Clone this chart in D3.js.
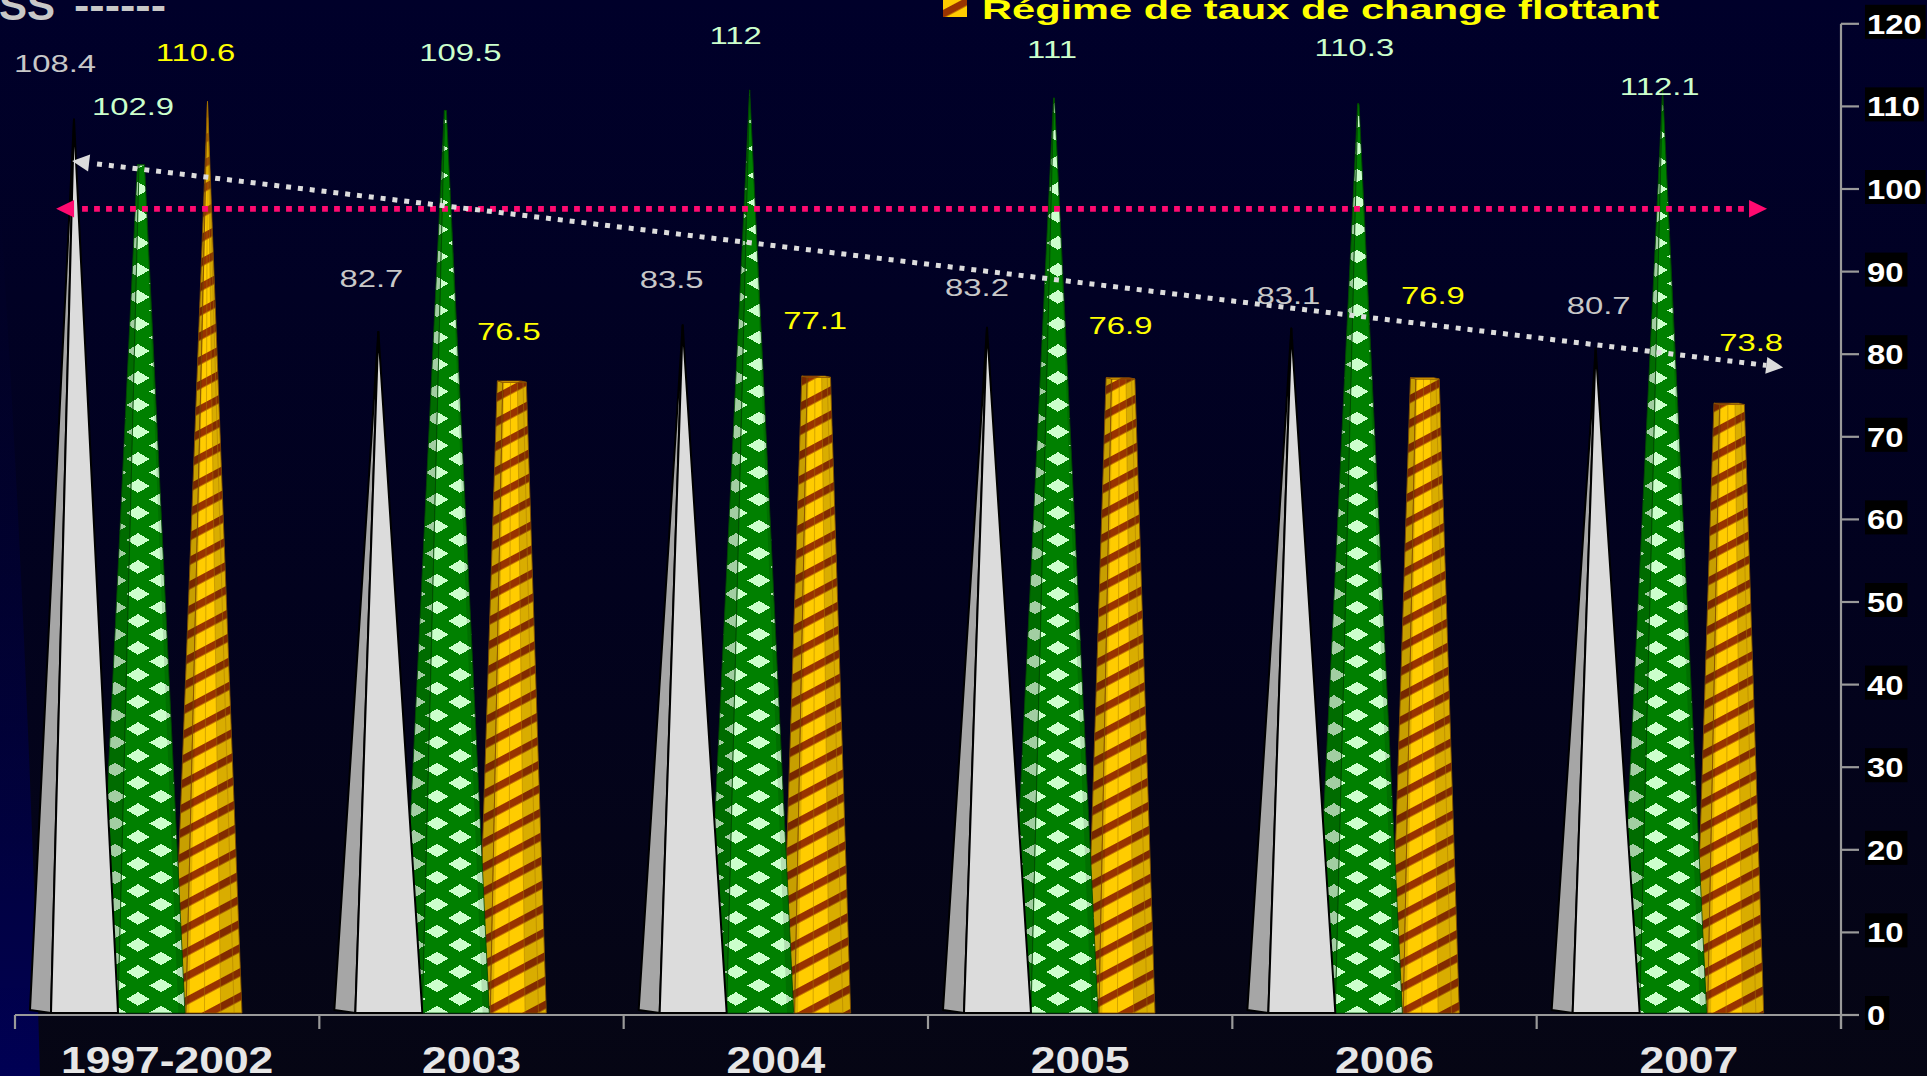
<!DOCTYPE html>
<html>
<head>
<meta charset="utf-8">
<script src="https://cdn.jsdelivr.net/npm/d3@7"></script>
<style>
  html, body { margin: 0; padding: 0; background: #00002a; overflow: hidden; }
  svg { display: block; }
  text { font-family: "Liberation Sans", Arial, sans-serif; }
</style>
</head>
<body>
<svg id="chart" width="1927" height="1076"></svg>
<script>
// ---------------- DATA ----------------
const categories = ["1997-2002", "2003", "2004", "2005", "2006", "2007"];
const seriesGray   = [108.4, 82.7, 83.5, 83.2, 83.1, 80.7];
const seriesGreen  = [102.9, 109.5, 112, 111, 110.3, 112.1];
const seriesYellow = [110.6, 76.5, 77.1, 76.9, 76.9, 73.8];
const yTicks = [0, 10, 20, 30, 40, 50, 60, 70, 80, 90, 100, 110, 120];
const legendLabel = "Régime de taux de change flottant";
const titleFragment = "SS";
const titleDashes = "------";
const referenceLevel = 97.6;          // horizontal pink arrow
const trendLevels = [103.4, 78.4];    // white dotted trend arrow (start, end)

// ---------------- LAYOUT ----------------
const W = 1927, H = 1076;
const plotLeft = 15, plotRight = 1841, plotBottom = 1015, plotTop = 23.8;
const refSpan = [0.135, 5.757];       // in category units
const trendSpan = [0.188, 5.81];
const yellowApexLevel = 132;          // virtual apex of truncated yellow columns
const grayShift   = [[-19,-48],[-7,-45],[-11,-37],[-10,-32],[-3,-25],[3,-34]];
const greenShift  = [[-8,-50],[15,-50],[-14,-46],[-2,-40],[-4,-48],[-3,6]];
const yellowShift = [[-12,-40],[-3,-43],[-1,-49],[0,-46],[8,-76],[22,-54]];

const svg = d3.select("#chart");
const defs = svg.append("defs");

const x = d3.scaleBand().domain(categories).range([plotLeft, plotRight]).padding(0);
const xc = d3.scaleLinear().domain([0, categories.length]).range([plotLeft, plotRight]);
const y = d3.scaleLinear().domain([0, 120]).range([plotBottom, plotTop]);
const bw = x.bandwidth();

// ---------------- BACKGROUND ----------------
const bg = defs.append("linearGradient").attr("id", "bgGrad")
  .attr("x1", 0).attr("y1", 0).attr("x2", 0).attr("y2", 1);
bg.append("stop").attr("offset", "0%").attr("stop-color", "#00002a");
bg.append("stop").attr("offset", "55%").attr("stop-color", "#02021e");
bg.append("stop").attr("offset", "100%").attr("stop-color", "#060614");
svg.append("rect").attr("width", W).attr("height", H).attr("fill", "url(#bgGrad)");

const glow = defs.append("linearGradient").attr("id", "glowGrad")
  .attr("gradientUnits", "userSpaceOnUse")
  .attr("x1", 0).attr("y1", 200).attr("x2", 0).attr("y2", 1076);
glow.append("stop").attr("offset", "0%").attr("stop-color", "#00003a").attr("stop-opacity", 0);
glow.append("stop").attr("offset", "100%").attr("stop-color", "#000054").attr("stop-opacity", 1);
svg.append("path").attr("d", "M0,200 Q28,640 40,1076 L0,1076 Z").attr("fill", "url(#glowGrad)");

// ---------------- PATTERNS ----------------
function diamondPattern(id, bgc, fg) {
  const pw = 46, ph = 27, hw = 11.5, hh = 6.8;
  const p = defs.append("pattern").attr("id", id).attr("patternUnits", "userSpaceOnUse")
    .attr("width", pw).attr("height", ph);
  p.append("rect").attr("width", pw).attr("height", ph).attr("fill", bgc);
  const dia = (cx, cy) => `M${cx-hw},${cy}L${cx},${cy-hh}L${cx+hw},${cy}L${cx},${cy+hh}Z`;
  p.append("path").attr("d", [dia(pw/2, ph/2), dia(0,0), dia(pw,0), dia(0,ph), dia(pw,ph)].join(""))
    .attr("fill", fg).attr("shape-rendering", "crispEdges");
}
diamondPattern("greenFront", "#008000", "#ccffcc");
diamondPattern("greenSide", "#006c00", "#a2cea2");

function stripePattern(id, bgc, fg) {
  const p = defs.append("pattern").attr("id", id).attr("patternUnits", "userSpaceOnUse")
    .attr("width", 30).attr("height", 21.5).attr("patternTransform", "rotate(-28)");
  p.append("rect").attr("width", 30).attr("height", 21.5).attr("fill", bgc);
  p.append("rect").attr("width", 30).attr("height", 7.4).attr("fill", fg);
}
stripePattern("yellowStripe", "#ffcc00", "#993300");

// ---------------- AXES ----------------
const axisColor = "#9a9a9a";
const gAxis = svg.append("g");
gAxis.append("line").attr("x1", plotLeft).attr("x2", plotRight)
  .attr("y1", y(0)).attr("y2", y(0)).attr("stroke", axisColor).attr("stroke-width", 2.2);
const boundaries = categories.map(c => x(c)).concat([plotRight]);
gAxis.selectAll("line.ct").data(boundaries).join("line").attr("class", "ct")
  .attr("x1", d => d).attr("x2", d => d).attr("y1", y(0)).attr("y2", y(0) + 14)
  .attr("stroke", axisColor).attr("stroke-width", 2.2);
gAxis.append("line").attr("x1", plotRight).attr("x2", plotRight)
  .attr("y1", y(120)).attr("y2", y(0) + 14).attr("stroke", axisColor).attr("stroke-width", 2.2);
gAxis.selectAll("line.yt").data(yTicks).join("line").attr("class", "yt")
  .attr("x1", plotRight).attr("x2", plotRight + 18)
  .attr("y1", d => y(d)).attr("y2", d => y(d)).attr("stroke", axisColor).attr("stroke-width", 2.2);

const tickG = svg.append("g");
yTicks.forEach(t => {
  const g = tickG.append("g");
  const rect = g.append("rect").attr("fill", "#000");
  const tx = g.append("text").text(t)
    .attr("transform", `translate(${plotRight + 26},${y(t) + 10}) scale(1.17,1)`)
    .attr("font-size", 28).attr("font-weight", "bold").attr("fill", "#ffffff");
  const w = tx.node().getComputedTextLength() * 1.17;
  rect.attr("x", plotRight + 24).attr("y", y(t) - 19).attr("width", w + 6).attr("height", 34);
});

// Category labels
svg.append("g").selectAll("text").data(categories).join("text")
  .attr("transform", d => `translate(${x(d) + bw / 2},1073) scale(1.2,1)`)
  .attr("text-anchor", "middle").attr("font-size", 37).attr("font-weight", "bold")
  .attr("fill", "#e6e6e6").text(d => d);

// ---------------- PYRAMIDS ----------------
function faces(s, g, v, apexV) {
  const yF = y(0) - 2, yB = y(0) - 5;
  const xBL = s + g.back, xFL = s + g.fl, xFR = s + g.fr;
  const depth = xFL - xBL;
  const ax = (xBL + xFR) / 2, ay = y(apexV);
  const f = v / apexV;
  const up = p => [p[0] + (ax - p[0]) * f, p[1] + (ay - p[1]) * f];
  const BL0 = [xBL, yB], FL0 = [xFL, yF], FR0 = [xFR, yF], BR0 = [xFR - depth, yB];
  const BL1 = up(BL0), FL1 = up(FL0), FR1 = up(FR0), BR1 = up(BR0);
  return { left: [BL0, FL0, FL1, BL1], front: [FL0, FR0, FR1, FL1],
           top: [BL1, FL1, FR1, BR1], apexX: ax, truncated: f < 0.999 };
}
const poly = pts => "M" + pts.map(p => p[0].toFixed(2) + "," + p[1].toFixed(2)).join("L") + "Z";
const mix = (a, b, t) => [a[0] + (b[0] - a[0]) * t, a[1] + (b[1] - a[1]) * t];

const greenMax = d3.max(seriesGreen);
const series = [
  { name: "yellow", values: seriesYellow, geom: { back: 158, fl: 171, fr: 227 },
    apex: v => (v >= 100 ? v : yellowApexLevel),
    front: "url(#yellowStripe)", side: "url(#yellowStripe)", stroke: "#8a5200", sw: 0.8,
    labelColor: "#ffff00", shift: yellowShift },
  { name: "green", values: seriesGreen, geom: { back: 82, fl: 103, fr: 170 },
    apex: v => Math.max(v, greenMax),
    front: "url(#greenFront)", side: "url(#greenSide)", stroke: "#004a00", sw: 0.8,
    labelColor: "#ccffcc", shift: greenShift },
  { name: "gray", values: seriesGray, geom: { back: 15, fl: 36, fr: 103 },
    apex: v => v,
    front: "#dcdcdc", side: "#a6a6a6", stroke: "#000000", sw: 2,
    labelColor: "#c8c8c8", shift: grayShift }
];

const barsG = svg.append("g");
const labelData = [];
series.forEach(sr => {
  const g = barsG.append("g").attr("class", "series-" + sr.name);
  sr.values.forEach((v, i) => {
    const s = x(categories[i]);
    const fc = faces(s, sr.geom, v, sr.apex(v));
    g.append("path").attr("d", poly(fc.left)).attr("fill", sr.side)
      .attr("stroke", sr.stroke).attr("stroke-width", sr.sw).attr("stroke-linejoin", "round");
    if (sr.name === "yellow") {
      g.append("path").attr("d", poly(fc.left)).attr("fill", "#000").attr("opacity", 0.22);
    }
    g.append("path").attr("d", poly(fc.front)).attr("fill", sr.front)
      .attr("stroke", sr.stroke).attr("stroke-width", sr.sw).attr("stroke-linejoin", "round");
    if (sr.name === "yellow") {
      const [FL0, FR0, FR1, FL1] = fc.front;
      const a0 = mix(FL0, FR0, 0.62), a1 = mix(FL1, FR1, 0.62);
      g.append("path").attr("d", poly([a0, FR0, FR1, a1])).attr("fill", "#000").attr("opacity", 0.15);
      const b0 = mix(FL0, FR0, 0.06), b1 = mix(FL1, FR1, 0.06);
      g.append("path").attr("d", poly([FL0, b0, b1, FL1])).attr("fill", "#000").attr("opacity", 0.12);
      [0.33, 0.62, 0.86].forEach(t => {
        const p0 = mix(FL0, FR0, t), p1 = mix(FL1, FR1, t);
        g.append("line").attr("x1", p0[0]).attr("y1", p0[1]).attr("x2", p1[0]).attr("y2", p1[1])
          .attr("stroke", "#a87a00").attr("stroke-width", 0.8).attr("opacity", 0.6);
      });
    }
    if (sr.name === "green") {
      const [FL0, FR0, FR1, FL1] = fc.front;
      const a0 = mix(FL0, FR0, 0.9), a1 = mix(FL1, FR1, 0.9);
      g.append("path").attr("d", poly([a0, FR0, FR1, a1])).attr("fill", "#000").attr("opacity", 0.12);
    }
    if (fc.truncated) {
      g.append("path").attr("d", poly(fc.top)).attr("fill", sr.front)
        .attr("stroke", sr.stroke).attr("stroke-width", sr.sw);
    }
    labelData.push({ v, x: fc.apexX + sr.shift[i][0], y: y(v) + sr.shift[i][1], color: sr.labelColor });
  });
});

// ---------------- ANNOTATION ARROWS ----------------
function dottedArrow(x1, y1, x2, y2, color, sw, dash, headLen, headHalf) {
  const g = svg.append("g");
  const dx = x2 - x1, dy = y2 - y1, L = Math.hypot(dx, dy);
  const ux = dx / L, uy = dy / L, nx = -uy, ny = ux;
  const sx = x1 + ux * headLen, sy = y1 + uy * headLen;
  const ex = x2 - ux * headLen, ey = y2 - uy * headLen;
  g.append("line").attr("x1", sx + ux * 8).attr("y1", sy + uy * 8).attr("x2", ex).attr("y2", ey)
    .attr("stroke", color).attr("stroke-width", sw).attr("stroke-dasharray", dash);
  g.append("path").attr("d", poly([[x1, y1], [sx + nx * headHalf, sy + ny * headHalf], [sx - nx * headHalf, sy - ny * headHalf]]))
    .attr("fill", color);
  g.append("path").attr("d", poly([[x2, y2], [ex + nx * headHalf, ey + ny * headHalf], [ex - nx * headHalf, ey - ny * headHalf]]))
    .attr("fill", color);
}
dottedArrow(xc(refSpan[0]), y(referenceLevel), xc(refSpan[1]), y(referenceLevel),
  "#ff0a70", 5.8, "5.8 6.2", 18, 8.7);
dottedArrow(xc(trendSpan[0]), y(trendLevels[0]), xc(trendSpan[1]), y(trendLevels[1]),
  "#dcdcdc", 5, "5 6.9", 17, 8.5);

// ---------------- VALUE LABELS ----------------
svg.append("g").selectAll("text").data(labelData).join("text")
  .attr("transform", d => `translate(${d.x},${d.y}) scale(1.34,1)`)
  .attr("text-anchor", "middle").attr("font-size", 24.5).attr("fill", d => d.color)
  .text(d => String(d.v));

// ---------------- TITLE / LEGEND ----------------
svg.append("text").attr("x", 55).attr("y", 20).attr("text-anchor", "end")
  .attr("font-size", 42).attr("font-weight", "bold").attr("fill", "#c8c8c8").text(titleFragment);
svg.append("text").attr("x", 74).attr("y", 20).attr("textLength", 92).attr("lengthAdjust", "spacingAndGlyphs")
  .attr("font-size", 42).attr("font-weight", "bold").attr("fill", "#c8c8c8").text(titleDashes);

svg.append("rect").attr("x", 943).attr("y", -6).attr("width", 24).attr("height", 23)
  .attr("fill", "url(#yellowStripe)");
svg.append("text").attr("x", 982).attr("y", 19).attr("textLength", 677).attr("lengthAdjust", "spacingAndGlyphs")
  .attr("font-size", 28).attr("font-weight", "bold").attr("fill", "#ffff00").text(legendLabel);
</script>
</body>
</html>
